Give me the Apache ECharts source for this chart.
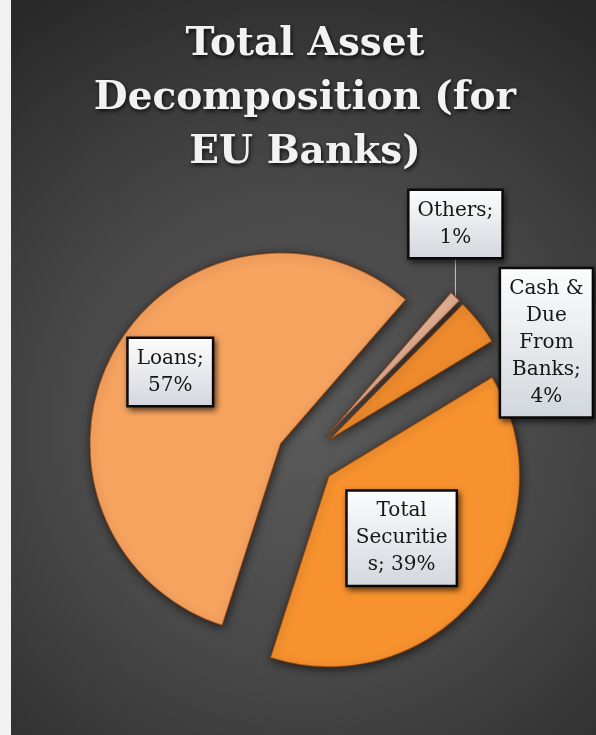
<!DOCTYPE html>
<html>
<head>
<meta charset="utf-8">
<script src="https://cdn.jsdelivr.net/npm/echarts@6/dist/echarts.min.js"></script>
<style>
  html, body { margin: 0; padding: 0; background: #f1f1f1; }
  #chart { width: 596px; height: 735px; }
</style>
</head>
<body>
<div id="chart"></div>
<script>
// Asset shares (percent), in clockwise order from the first slice
const categories = ['Others', 'Cash & Due From Banks', 'Total Securities', 'Loans'];
const shares = [1, 4, 39, 57];
// Category names as they wrap inside the label boxes
const wrappedNames = ['Others;\n', 'Cash &\nDue\nFrom\nBanks;\n', 'Total\nSecuritie\ns; ', 'Loans;\n'];
const sliceColors = ['#E6B397', '#EF8B2D', '#F7922F', '#F7A360'];

const CX = 306, CY = 458, R = 191, EXPLODE = 29, START_ANGLE = 49;
const total = shares.reduce((a, b) => a + b, 0);

// Bisector of slice i, in degrees clockwise from 12 o'clock
function midClock(i) {
  let cum = 0;
  for (let k = 0; k < i; k++) cum += shares[k];
  return 90 - START_ANGLE + (cum + shares[i] / 2) / total * 360;
}
function bisector(i) {
  const a = midClock(i) * Math.PI / 180;
  return [Math.sin(a), -Math.cos(a)];
}
// Centre of slice i once it is pulled out of the pie
function sliceCenter(i) {
  const d = bisector(i);
  return [CX + EXPLODE * d[0], CY + EXPLODE * d[1]];
}

// Where each label box goes
function placeLabel(i, params) {
  const d = bisector(i), c = sliceCenter(i);
  const w = params.labelRect.width, h = params.labelRect.height;
  if (i === 3) {
    return { x: c[0] + d[0] * R * 0.7 + 6, y: c[1] + d[1] * R * 0.7 - 6, align: 'center', verticalAlign: 'middle' };
  }
  if (i === 2) {
    return { x: c[0] + d[0] * R * 0.5 - 2, y: c[1] + d[1] * R * 0.5 + 3, align: 'center', verticalAlign: 'middle' };
  }
  const edge = [c[0] + d[0] * R, c[1] + d[1] * R];
  if (i === 0) {
    const top = edge[1] - 37;
    return {
      x: edge[0], y: top - h / 2, align: 'center', verticalAlign: 'middle',
      labelLinePoints: [[edge[0], edge[1]], [edge[0], top]]
    };
  }
  return { x: edge[0] + 20 + w / 2, y: edge[1] + 21, align: 'center', verticalAlign: 'middle' };
}

const labelBox = {
  fontFamily: 'DejaVu Serif',
  fontSize: 20,
  lineHeight: 27,
  color: '#161616',
  align: 'center',
  padding: [6, 8],
  backgroundColor: {
    type: 'linear', x: 0, y: 0, x2: 0, y2: 1,
    colorStops: [{ offset: 0, color: '#fdfdfd' }, { offset: 1, color: '#d2d7dd' }]
  },
  borderColor: '#0c0c0c',
  borderWidth: 2.5,
  shadowColor: 'rgba(0,0,0,0.55)',
  shadowBlur: 6,
  shadowOffsetX: 2,
  shadowOffsetY: 3,
  formatter: p => wrappedNames[p.dataIndex] + p.value + '%'
};

// One pie per slice so every slice can be pulled out along its own bisector
const series = categories.map((_, i) => ({
  type: 'pie',
  silent: true,
  center: sliceCenter(i),
  radius: R,
  startAngle: START_ANGLE,
  clockwise: true,
  avoidLabelOverlap: false,
  emphasis: { disabled: true },
  label: Object.assign({ position: i < 2 ? 'outside' : 'inside' }, labelBox),
  labelLine: { show: false },
  labelLayout: params => params.dataIndex === i ? placeLabel(i, params) : {},
  data: categories.map((name, k) => k === i ? {
    name, value: shares[k],
    itemStyle: {
      color: sliceColors[k],
      borderColor: 'rgba(110,45,0,0.55)',
      borderWidth: 1.5,
      shadowColor: 'rgba(0,0,0,0.6)',
      shadowBlur: 10,
      shadowOffsetX: 1,
      shadowOffsetY: 2
    },
    label: { show: true },
    labelLine: { show: k === 0, lineStyle: { color: '#c8c8c8', width: 1 } }
  } : {
    name, value: shares[k],
    itemStyle: { color: 'rgba(0,0,0,0)', borderWidth: 0, shadowBlur: 0 },
    label: { show: false },
    labelLine: { show: false }
  })
}));

const chart = echarts.init(document.getElementById('chart'), null, { renderer: 'canvas' });
chart.setOption({
  animation: false,
  backgroundColor: '#f1f1f1',
  graphic: [
    {
      type: 'rect', silent: true, z: 0,
      shape: { x: 11, y: 0, width: 585, height: 735 },
      style: {
        fill: {
          type: 'radial', x: 0.5, y: 0.58, r: 0.86,
          colorStops: [
            { offset: 0, color: '#5a5a5a' },
            { offset: 0.5, color: '#474747' },
            { offset: 1, color: '#282828' }
          ]
        }
      }
    },
    {
      type: 'text', silent: true, z: 1,
      x: 305, y: 18,
      style: {
        text: 'Total Asset\nDecomposition (for\nEU Banks)',
        fill: '#f2f2f2',
        fontFamily: 'DejaVu Serif',
        fontWeight: 'bold',
        fontSize: 39,
        lineHeight: 54,
        textAlign: 'center',
        textVerticalAlign: 'top',
        textShadowColor: 'rgba(0,0,0,0.85)',
        textShadowBlur: 4,
        textShadowOffsetX: 1,
        textShadowOffsetY: 2
      }
    }
  ],
  series
});
</script>
</body>
</html>
